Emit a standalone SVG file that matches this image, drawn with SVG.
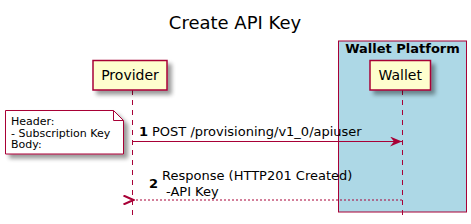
<svg xmlns="http://www.w3.org/2000/svg" width="471" height="224" viewBox="0 0 471 224">
<defs>
<filter id="sh" x="-20%" y="-20%" width="150%" height="150%">
<feGaussianBlur in="SourceAlpha" stdDeviation="2"/>
<feOffset dx="4" dy="4" result="b"/>
<feComponentTransfer><feFuncA type="linear" slope="0.4"/></feComponentTransfer>
<feMerge><feMergeNode/><feMergeNode in="SourceGraphic"/></feMerge>
</filter>
<marker id="arr" viewBox="0 0 12 10" refX="12" refY="5" markerWidth="12" markerHeight="10" markerUnits="userSpaceOnUse" orient="auto">
<path d="M0,0 L12,5 L0,10 L4,5 Z" fill="#A80036"/>
</marker>
<marker id="open" viewBox="0 0 12 10" refX="1" refY="5" markerWidth="12" markerHeight="10" markerUnits="userSpaceOnUse" orient="auto">
<path d="M11,0.5 L1,5 L11,9.5" fill="none" stroke="#A80036" stroke-width="2"/>
</marker>
</defs>
<style>
text{font-family:"DejaVu Sans",Verdana,sans-serif;fill:#000}
.part{fill:#FEFECE;stroke:#A80036;stroke-width:1.5}
.life{stroke:#A80036;stroke-width:1;stroke-dasharray:5 5}
.msg{font-size:13px}
.num{font-size:13px;font-weight:bold}
.note{font-size:11px}
</style>
<rect width="471" height="224" fill="#fff"/>
<text x="235" y="29" text-anchor="middle" font-size="18">Create API Key</text>
<g id="wallet-platform">
<rect x="338.5" y="41" width="128" height="171" fill="#ADD8E6" stroke="#A80036" stroke-width="1"/>
<text x="402.5" y="53" text-anchor="middle" font-size="13" font-weight="bold">Wallet Platform</text>
</g>
<g id="lifelines">
<line class="life" x1="132.5" y1="90" x2="132.5" y2="218"/>
<line class="life" x1="402.5" y1="90" x2="402.5" y2="218"/>
</g>
<g id="provider">
<rect class="part" x="93" y="60.5" width="74" height="29.5" filter="url(#sh)"/>
<text x="130" y="80" text-anchor="middle" font-size="14">Provider</text>
</g>
<g id="wallet">
<rect class="part" x="370" y="60.5" width="60.5" height="29.5" filter="url(#sh)"/>
<text x="400.2" y="80" text-anchor="middle" font-size="14">Wallet</text>
</g>
<g id="note">
<path d="M5.5,110.5 H113.5 L123.5,120.5 V154 H5.5 Z" fill="#fff" stroke="#A80036" stroke-width="1" filter="url(#sh)"/>
<path d="M113.5,110.5 V120.5 H123.5" fill="none" stroke="#A80036" stroke-width="1"/>
<text class="note" x="11" y="125">Header:</text>
<text class="note" x="11" y="136.5">- Subscription Key</text>
<text class="note" x="11" y="148">Body:</text>
</g>
<g id="connectors">
<line x1="133" y1="141.5" x2="402" y2="141.5" stroke="#A80036" stroke-width="1" marker-end="url(#arr)"/>
<text class="num" x="139" y="136">1</text>
<text class="msg" x="152" y="136">POST /provisioning/v1_0/apiuser</text>
<line x1="402" y1="200" x2="133.5" y2="200" stroke="#A80036" stroke-width="1" stroke-dasharray="2 2" marker-end="url(#open)"/>
<text class="num" x="149" y="188">2</text>
<text class="msg" x="162" y="180">Response (HTTP201 Created)</text>
<text class="msg" x="166" y="196">-API Key</text>
</g>
</svg>
